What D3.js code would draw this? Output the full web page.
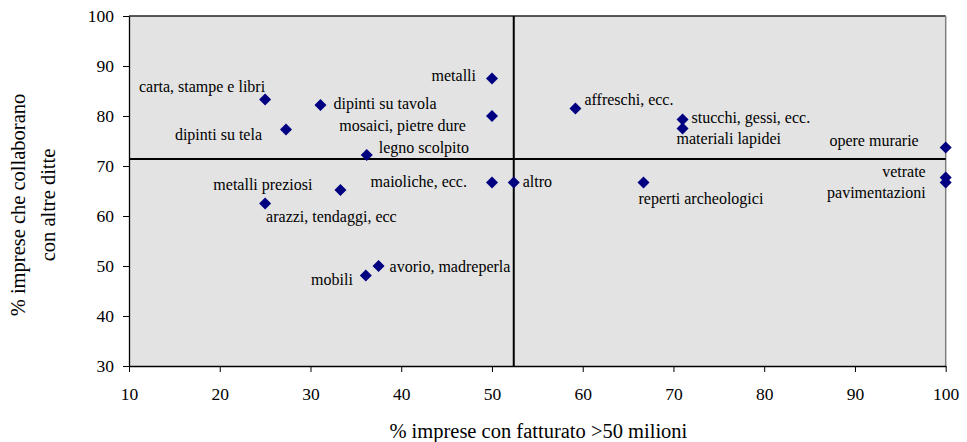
<!DOCTYPE html>
<html>
<head>
<meta charset="utf-8">
<script src="https://cdn.jsdelivr.net/npm/d3@7/dist/d3.min.js"></script>
<style>
  html, body { margin: 0; padding: 0; background: #ffffff; }
  svg text { font-family: "Liberation Serif", "Times New Roman", serif; }
</style>
</head>
<body>
<svg id="chart" width="967" height="442"></svg>
<script>
// ---- data ----
const categories = [
  "carta, stampe e libri", "dipinti su tavola", "dipinti su tela", "metalli",
  "mosaici, pietre dure", "legno scolpito", "metalli preziosi", "arazzi, tendaggi, ecc",
  "maioliche, ecc.", "altro", "mobili", "avorio, madreperla",
  "affreschi, ecc.", "stucchi, gessi, ecc.", "materiali lapidei", "reperti archeologici",
  "opere murarie", "vetrate", "pavimentazioni"
];
const xValues = [25.0, 31.1, 27.3, 50.0, 50.0, 36.2, 33.3, 25.0, 50.0, 52.4, 36.1, 37.5, 59.2, 71.0, 71.0, 66.7, 100, 100, 100];
const yValues = [83.3, 82.2, 77.3, 87.5, 80.0, 72.2, 65.2, 62.5, 66.7, 66.7, 48.1, 50.0, 81.5, 79.3, 77.5, 66.7, 73.7, 67.7, 66.7];
const xTicks = [10, 20, 30, 40, 50, 60, 70, 80, 90, 100];
const yTicks = [30, 40, 50, 60, 70, 80, 90, 100];
const xMean = 52.4;
const yMean = 71.4;
const xTitle = "% imprese con fatturato >50 milioni";
const yTitle = ["% imprese che collaborano", "con altre ditte"];

// label placement (anchor, dx, dy relative to marker)
const labelPlacement = {
  "carta, stampe e libri": ["end", 0, -8],
  "dipinti su tavola": ["start", 13, 4],
  "dipinti su tela": ["end", -24, 10],
  "metalli": ["end", -16, 2],
  "mosaici, pietre dure": ["end", -26, 15],
  "legno scolpito": ["start", 12, -2],
  "metalli preziosi": ["end", -28, 0],
  "arazzi, tendaggi, ecc": ["start", 1, 18],
  "maioliche, ecc.": ["end", -25, 4],
  "altro": ["start", 9, 4],
  "mobili": ["end", -13, 9],
  "avorio, madreperla": ["start", 11, 6],
  "affreschi, ecc.": ["start", 9, -4],
  "stucchi, gessi, ecc.": ["start", 9, 3],
  "materiali lapidei": ["start", -6, 15],
  "reperti archeologici": ["start", -5, 21],
  "opere murarie": ["end", -27, -2],
  "vetrate": ["end", -20, -1],
  "pavimentazioni": ["end", -20, 15]
};

const points = categories.map((c, i) => ({ name: c, x: xValues[i], y: yValues[i] }));
const SERIF = "'Liberation Serif', 'Times New Roman', serif";

// ---- layout ----
const svg = d3.select("#chart");
const mLeft = 129, mTop = 16, mRight = 945.7, mBottom = 366;
const x = d3.scaleLinear().domain([10, 100]).range([mLeft, mRight]);
const y = d3.scaleLinear().domain([30, 100]).range([mBottom, mTop]);

// plot background
svg.append("rect")
  .attr("x", mLeft).attr("y", mTop)
  .attr("width", mRight - mLeft).attr("height", mBottom - mTop)
  .attr("fill", "#e3e3e3");
// top and right border
svg.append("line").attr("x1", mLeft).attr("x2", mRight).attr("y1", mTop).attr("y2", mTop)
  .attr("stroke", "#222").attr("stroke-width", 1.3);
svg.append("line").attr("x1", mRight).attr("x2", mRight).attr("y1", mTop).attr("y2", mBottom)
  .attr("stroke", "#808080").attr("stroke-width", 1.5);

// axes
const xAxis = d3.axisBottom(x).tickValues(xTicks).tickSize(6).tickPadding(16).tickSizeOuter(0);
const yAxis = d3.axisLeft(y).tickValues(yTicks).tickSize(6).tickPadding(9).tickSizeOuter(0);

const gx = svg.append("g").attr("transform", `translate(0,${mBottom})`).call(xAxis);
const gy = svg.append("g").attr("transform", `translate(${mLeft},0)`).call(yAxis);
[gx, gy].forEach(g => {
  g.attr("font-family", SERIF).attr("font-size", 17.5);
  g.select(".domain").attr("stroke", "#000").attr("stroke-width", 1.3);
  g.selectAll(".tick line").attr("stroke", "#000");
  g.selectAll(".tick text").attr("fill", "#000");
});

// mean lines
svg.append("line")
  .attr("x1", x(10)).attr("x2", x(100)).attr("y1", y(yMean)).attr("y2", y(yMean))
  .attr("stroke", "#000").attr("stroke-width", 2);
svg.append("line")
  .attr("x1", x(xMean)).attr("x2", x(xMean)).attr("y1", y(100)).attr("y2", y(30))
  .attr("stroke", "#000").attr("stroke-width", 2);

// markers
const diamond = d3.symbol().type(d3.symbolSquare).size(72);
svg.append("g").selectAll("path")
  .data(points).join("path")
  .attr("d", diamond)
  .attr("transform", d => `translate(${x(d.x)},${y(d.y)}) rotate(45)`)
  .attr("fill", "#000080");

// labels
svg.append("g").attr("font-family", SERIF).selectAll("text")
  .data(points).join("text")
  .attr("x", d => x(d.x) + labelPlacement[d.name][1])
  .attr("y", d => y(d.y) + labelPlacement[d.name][2])
  .attr("text-anchor", d => labelPlacement[d.name][0])
  .attr("font-size", 16)
  .attr("fill", "#000")
  .text(d => d.name);

// axis titles
svg.append("text")
  .attr("x", (mLeft + mRight) / 2 + 1).attr("y", 438)
  .attr("text-anchor", "middle").attr("font-size", 20.5).attr("font-family", SERIF)
  .text(xTitle);

const yt = svg.append("text")
  .attr("transform", `translate(0,205) rotate(-90)`)
  .attr("text-anchor", "middle").attr("font-size", 20.5).attr("font-family", SERIF);
yTitle.forEach((t, i) => {
  yt.append("tspan").attr("x", 0).attr("y", 25 + i * 30).text(t);
});
</script>
</body>
</html>
